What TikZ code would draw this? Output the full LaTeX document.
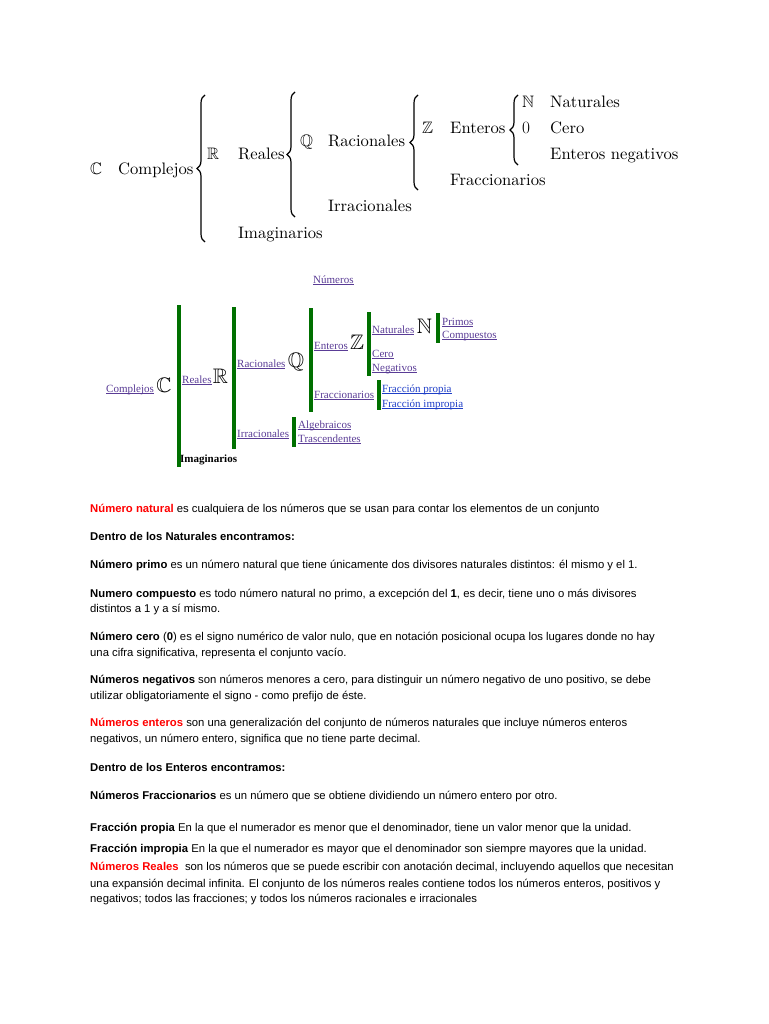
\documentclass[tikz,border=0pt]{standalone}
\usepackage{amssymb}
\usepackage{fontspec}
\usepackage{xcolor}
\usepackage{tikz}
\usetikzlibrary{positioning,decorations.pathreplacing}
\newfontfamily\arial{Liberation Sans}
\newfontfamily\tms{Liberation Serif}
\newfontfamily\cmten{lmroman10-regular}[Extension=.otf]
\definecolor{lnkpurple}{HTML}{5A3C96}
\definecolor{lnkblue}{HTML}{1F3FC8}
\definecolor{bargreen}{HTML}{007000}
\definecolor{txtred}{HTML}{FF0000}
\newcommand{\lnk}[1]{\underline{\smash{#1}}}
\newcommand{\rojo}[1]{\textbf{\color{txtred}#1}}

\begin{document}
\begin{tikzpicture}[x=1pt, y=-1pt,
  top/.style={anchor=base west, inner sep=0pt, font=\cmten\fontsize{16.6}{20}\selectfont},
  lk/.style={anchor=base west, inner sep=0pt, font=\tms\fontsize{11}{13}\selectfont, text=lnkpurple},
  lkb/.style={lk, text=lnkblue},
  bbs/.style={anchor=base west, inner sep=0pt, font=\fontsize{21}{24}\selectfont},
  body/.style={anchor=base west, inner sep=0pt, font=\arial\fontsize{11.3}{13}\selectfont},
  bar/.style={draw=bargreen, line width=3.5pt},
  brc/.style={decorate, decoration={brace, amplitude=8pt}, line width=1.2pt}]
  \useasboundingbox[fill=white] (0,0) rectangle (768,1024);

  % cuadro con llaves
  \node[top] (tC)   at (90,175)  {$\mathbb{C}$};
  \node[top] (tcpx) at (118,175) {Complejos};
  \node[top] (tR)   at (207,160) {$\mathbb{R}$};
  \node[top] (trea) at (238,160) {Reales};
  \node[top] (tQ)   at (300,147) {$\mathbb{Q}$};
  \node[top] (trac) at (328,147) {Racionales};
  \node[top] (tZ)   at (422,134) {$\mathbb{Z}$};
  \node[top] (tent) at (450,134) {Enteros};
  \node[top] (tN)   at (522,108) {$\mathbb{N}$};
  \node[top] (tnat) at (550,108) {Naturales};
  \node[top] (t0)   at (522,134) {$0$};
  \node[top] (tcer) at (550,134) {Cero};
  \node[top] (tneg) at (550,160) {Enteros negativos};
  \node[top] (tfra) at (450,186) {Fraccionarios};
  \node[top] (tirr) at (328,212) {Irracionales};
  \node[top] (timg) at (238,238) {Imaginarios};
  \coordinate (b1t) at (205,95);  \coordinate (b1b) at (205,242);
  \coordinate (b2t) at (295,92);  \coordinate (b2b) at (295,217);
  \coordinate (b3t) at (418,95);  \coordinate (b3b) at (418,190);
  \coordinate (b4t) at (518,95);  \coordinate (b4b) at (518,165);
  \foreach \a/\b in {b1b/b1t,b2b/b2t,b3b/b3t,b4b/b4t} \draw[brc] (\a)--(\b);

  % cuadro con barras verdes
  \node[lk] (num)  at (313,283) {\lnk{Números}};
  \node[lk] (cpx)  at (106,392) {\lnk{Complejos}};
  \node[bbs] (Cb)  at ([xshift=2pt]cpx.base east) {$\mathbb{C}$};
  \node[lk] (rea)  at (182,383) {\lnk{Reales}};
  \node[bbs] (Rb)  at ([xshift=1pt]rea.base east) {$\mathbb{R}$};
  \node[lk] (rac)  at (237,367) {\lnk{Racionales}};
  \node[bbs] (Qb)  at ([xshift=2pt]rac.base east) {$\mathbb{Q}$};
  \node[lk] (ent)  at (314,349) {\lnk{Enteros}};
  \node[bbs] (Zb)  at ([xshift=2pt]ent.base east) {$\mathbb{Z}$};
  \node[lk] (nat)  at (372,333) {\lnk{Naturales}};
  \node[bbs] (Nb)  at ([xshift=2pt]nat.base east) {$\mathbb{N}$};
  \node[lk] (pri)  at (442,325) {\lnk{Primos}};
  \node[lk] (com)  at (442,338) {\lnk{Compuestos}};
  \node[lk] (cer)  at (372,357) {\lnk{Cero}};
  \node[lk] (neg)  at (372,371) {\lnk{Negativos}};
  \node[lk] (fra)  at (314,398) {\lnk{Fraccionarios}};
  \node[lkb] (fpr) at (382,392) {\lnk{Fracción propia}};
  \node[lkb] (fim) at (382,407) {\lnk{Fracción impropia}};
  \node[lk] (irr)  at (237,437) {\lnk{Irracionales}};
  \node[lk] (alg)  at (298,428) {\lnk{Algebraicos}};
  \node[lk] (tra)  at (298,442) {\lnk{Trascendentes}};
  \node[lk, text=black, font=\tms\bfseries\fontsize{11}{13}\selectfont] (img) at (180,462) {Imaginarios};
  \coordinate (g1t) at (179,305); \coordinate (g1b) at (179,467);
  \coordinate (g2t) at (234,307); \coordinate (g2b) at (234,449);
  \coordinate (g3t) at (311,308); \coordinate (g3b) at (311,412);
  \coordinate (g4t) at (369,312); \coordinate (g4b) at (369,376);
  \coordinate (g5t) at (438,313); \coordinate (g5b) at (438,343);
  \coordinate (g6t) at (379,380); \coordinate (g6b) at (379,410);
  \coordinate (g7t) at (294,417); \coordinate (g7b) at (294,447);
  \foreach \a/\b in {g1t/g1b,g2t/g2b,g3t/g3b,g4t/g4b,g5t/g5b,g6t/g6b,g7t/g7b} \draw[bar] (\a)--(\b);

  % texto
  \node[body] (p1)  at (90,512) {\rojo{Número natural} es cualquiera de los números que se usan para contar los elementos de un conjunto};
  \node[body] (p2)  at (90,540) {\textbf{Dentro de los Naturales encontramos:}};
  \node[body] (p3)  at (90,568) {\textbf{Número primo} es un número natural que tiene únicamente dos divisores naturales distintos: él mismo y el 1.};
  \node[body] (p4)  at (90,597) {\textbf{Numero compuesto} es todo número natural no primo, a excepción del \textbf{1}, es decir, tiene uno o más divisores};
  \node[body] (p5)  at (90,612) {distintos a 1 y a sí mismo.};
  \node[body] (p6)  at (90,640) {\textbf{Número cero} (\textbf{0}) es el signo numérico de valor nulo, que en notación posicional ocupa los lugares donde no hay};
  \node[body] (p7)  at (90,656) {una cifra significativa, representa el conjunto vacío.};
  \node[body] (p8)  at (90,683) {\textbf{Números negativos} son números menores a cero, para distinguir un número negativo de uno positivo, se debe};
  \node[body] (p9)  at (90,699) {utilizar obligatoriamente el signo - como prefijo de éste.};
  \node[body] (p10) at (90,726) {\rojo{Números enteros} son una generalización del conjunto de números naturales que incluye números enteros};
  \node[body] (p11) at (90,742) {negativos, un número entero, significa que no tiene parte decimal.};
  \node[body] (p12) at (90,771) {\textbf{Dentro de los Enteros encontramos:}};
  \node[body] (p13) at (90,799) {\textbf{Números Fraccionarios} es un número que se obtiene dividiendo un número entero por otro.};
  \node[body] (p14) at (90,831) {\textbf{Fracción propia} En la que el numerador es menor que el denominador, tiene un valor menor que la unidad.};
  \node[body] (p15) at (90,852) {\textbf{Fracción impropia} En la que el numerador es mayor que el denominador son siempre mayores que la unidad.};
  \node[body] (p16) at (90,870) {\rojo{Números Reales}\ \ son los números que se puede escribir con anotación decimal, incluyendo aquellos que necesitan};
  \node[body] (p17) at (90,887) {una expansión decimal infinita. El conjunto de los números reales contiene todos los números enteros, positivos y};
  \node[body] (p18) at (90,902) {negativos; todos las fracciones;\ y todos los números racionales e irracionales};
\end{tikzpicture}
\end{document}
